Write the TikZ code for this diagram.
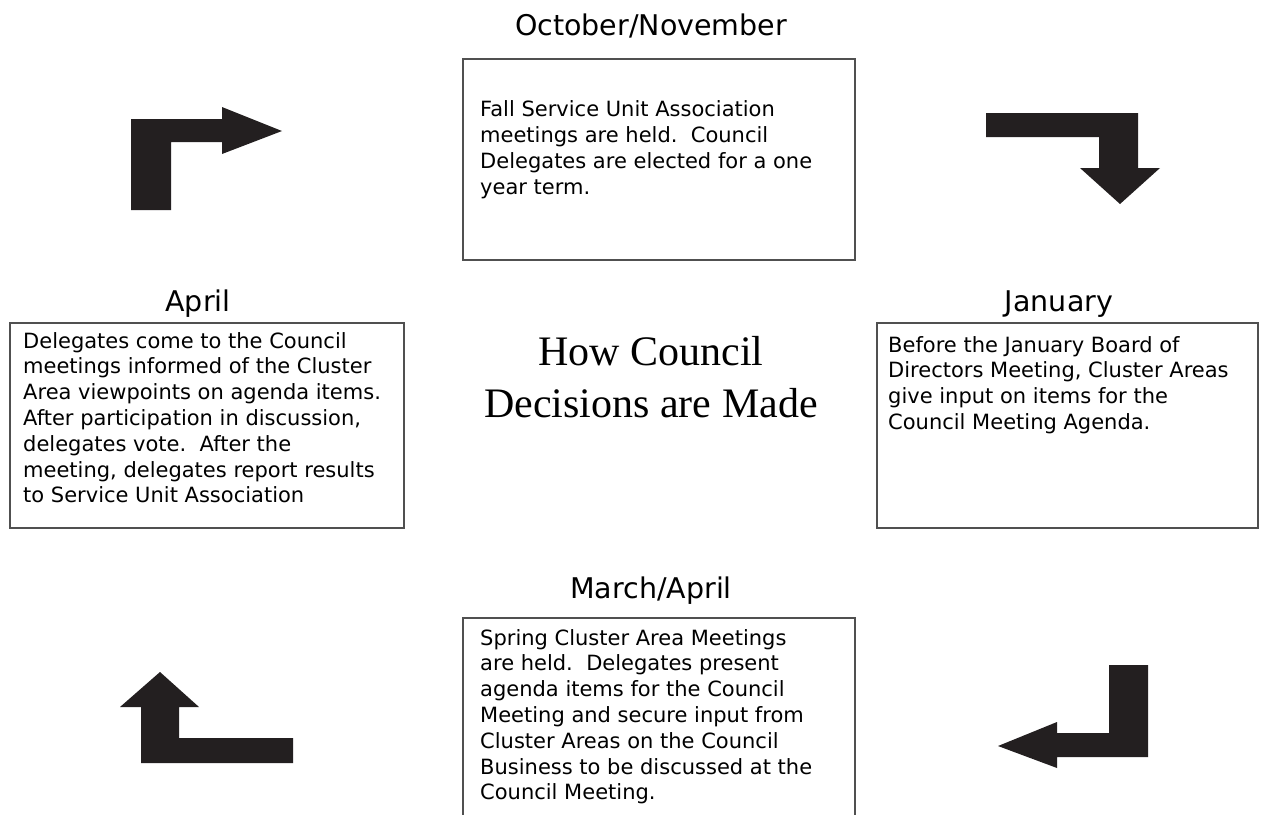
\documentclass[tikz,border=0pt]{standalone}
\usepackage{fontspec}
\setmainfont{DejaVu Sans}
\newfontfamily\titlefont{Liberation Serif}
\definecolor{arrowblack}{HTML}{231F20}
\definecolor{boxline}{HTML}{505050}
\begin{document}
\begin{tikzpicture}[x=1pt,y=-1pt,
  lbl/.style={font=\fontsize{28.5}{34}\selectfont, inner sep=0pt, anchor=base},
  boxframe/.style={draw=boxline, line width=1.7pt, anchor=north west, inner sep=0pt},
  boxtext/.style={font=\fontsize{21}{25.8}\selectfont, align=left, anchor=north west, inner sep=0pt},
  bigarrow/.style={fill=arrowblack, draw=none}]
\useasboundingbox (0,0) rectangle (1268,814);
\fill[white] (0,0) rectangle (1268,814);

% labels
\node[lbl] (oct) at (651,35) {October/November};
\node[lbl] (apr) at (198,311) {April};
\node[lbl] (jan) at (1059,311) {January};
\node[lbl] (mar) at (651,598) {March/April};

% boxes
\node[boxframe, minimum width=392pt, minimum height=201pt] (fall) at (462,58) {};
\node[boxframe, minimum width=394pt, minimum height=205pt] (deleg) at (9,322) {};
\node[boxframe, minimum width=381pt, minimum height=205pt] (before) at (876,322) {};
\node[boxframe, minimum width=392pt, minimum height=230pt] (spring) at (462,617) {};

% box texts
\node[boxtext] (falltxt) at (480,100.5) {Fall Service Unit Association\\meetings are held.\ \ Council\\Delegates are elected for a one\\year term.};
\node[boxtext] (delegtxt) at (23,332) {Delegates come to the Council\\meetings informed of the Cluster\\Area viewpoints on agenda items.\\After participation in discussion,\\delegates vote.\ \ After the\\meeting, delegates report results\\to Service Unit Association};
\node[boxtext] (beforetxt) at (888,336) {Before the January Board of\\Directors Meeting, Cluster Areas\\give input on items for the\\Council Meeting Agenda.};
\node[boxtext] (springtxt) at (480,629) {Spring Cluster Area Meetings\\are held.\ \ Delegates present\\agenda items for the Council\\Meeting and secure input from\\Cluster Areas on the Council\\Business to be discussed at the\\Council Meeting.};

% title
\node[font=\titlefont\fontsize{42}{52}\selectfont, align=center, inner sep=0pt, anchor=north] (title) at (651,336) {How Council\\Decisions are Made};

% arrows
% top-left: up then right
\fill[bigarrow] (131,210) -- (131,119) -- (222,119) -- (222,107) -- (282,131) -- (222,154) -- (222,142) -- (171,142) -- (171,210) -- cycle;
% top-right: right then down
\fill[bigarrow] (986,113) -- (1138,113) -- (1138,168) -- (1160,168) -- (1120,204) -- (1080,168) -- (1099,168) -- (1099,137) -- (986,137) -- cycle;
% bottom-right: down then left
\fill[bigarrow] (1109,665) -- (1148,665) -- (1148,757) -- (1057,757) -- (1057,768) -- (998,746) -- (1057,722) -- (1057,733) -- (1109,733) -- cycle;
% bottom-left: left then up
\fill[bigarrow] (293,738) -- (293,763) -- (141,763) -- (141,707) -- (120,707) -- (160,672) -- (199,707) -- (179,707) -- (179,738) -- cycle;
\end{tikzpicture}
\end{document}
